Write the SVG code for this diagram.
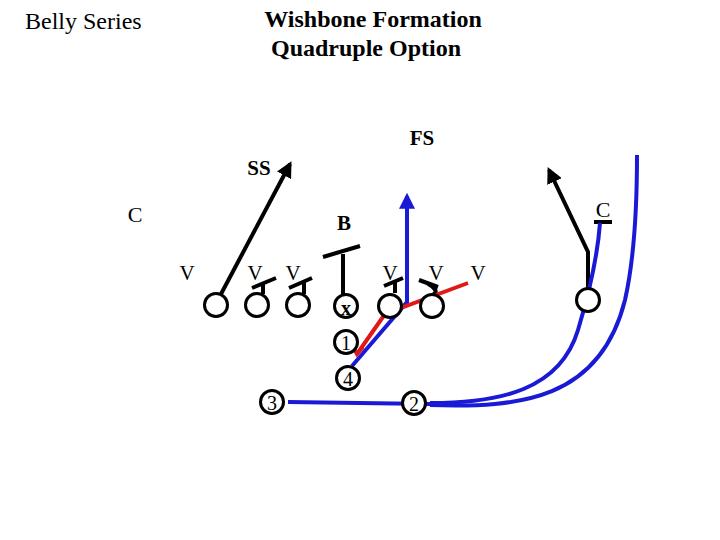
<svg xmlns="http://www.w3.org/2000/svg" width="720" height="540" viewBox="0 0 720 540">
<defs>
<style>
.t{font-family:"Liberation Serif","Times New Roman",serif;fill:#000}
.b{font-weight:bold}
.p{fill:#fff;stroke:#000;stroke-width:3}
.k{fill:none;stroke:#000;stroke-width:4;stroke-linecap:butt}
.bl{fill:none;stroke:#1a1ad6;stroke-width:4}
.rd{fill:none;stroke:#e01818;stroke-width:4}
</style>
<marker id="ak" viewBox="0 0 10 10" refX="8" refY="5" markerWidth="4" markerHeight="4" orient="auto" markerUnits="strokeWidth"><path d="M0,0L10,5L0,10z" fill="#000"/></marker>
<marker id="ab" viewBox="0 0 10 10" refX="8" refY="5" markerWidth="4" markerHeight="4" orient="auto" markerUnits="strokeWidth"><path d="M0,0L10,5L0,10z" fill="#1a1ad6"/></marker>
</defs>
<rect width="720" height="540" fill="#fff"/>
<g id="titles">
<text class="t" x="25" y="29" font-size="24">Belly Series</text>
<text class="t b" x="373" y="27" font-size="24" text-anchor="middle">Wishbone Formation</text>
<text class="t b" x="366" y="56" font-size="24" text-anchor="middle">Quadruple Option</text>
</g>
<g id="defense">
<text class="t b" x="422" y="145" font-size="21" text-anchor="middle">FS</text>
<text class="t b" x="259" y="175" font-size="21" text-anchor="middle">SS</text>
<text class="t" x="135" y="222" font-size="22" text-anchor="middle">C</text>
<text class="t b" x="344" y="230" font-size="21" text-anchor="middle">B</text>
<text class="t" x="603" y="217" font-size="22" text-anchor="middle">C</text>
<text class="t" x="187" y="280" font-size="21" text-anchor="middle">V</text>
<text class="t" x="255" y="280" font-size="21" text-anchor="middle">V</text>
<text class="t" x="293" y="280" font-size="21" text-anchor="middle">V</text>
<text class="t" x="390" y="280" font-size="21" text-anchor="middle">V</text>
<text class="t" x="436" y="280" font-size="21" text-anchor="middle">V</text>
<text class="t" x="478" y="280" font-size="21" text-anchor="middle">V</text>
</g>
<g id="connectors">
<path class="k" d="M221,294 L290,164" marker-end="url(#ak)"/>
<path class="k" d="M263,294 L263,283 M252,288 L276,278"/>
<path class="k" d="M304,294 L304,283 M289,288 L312,278"/>
<path class="k" d="M343,294 L343,254 M323,257 L360,246"/>
<path class="k" d="M395,293 L395,281 M384,286 L403,278"/>
<path class="k" d="M433,294 C440,292 432,286 427,283 M419,280 L438,287"/>
<path class="k" d="M588,289 L588,252 L549,170" marker-end="url(#ak)"/>
<path class="k" d="M594,222 L612,222"/>
<path class="bl" d="M288,402 L430,404"/>
<path class="bl" d="M430,403 C500,403 560,390 578,330 C590,290 598,250 600,223"/>
<path class="bl" d="M430,405 C520,408 600,400 625,300 C634,260 637,200 637,155"/>
<path class="bl" d="M352,366 L407,302 L407,196" marker-end="url(#ab)"/>
<path class="rd" d="M468,283 L385,314 L357,354 M352,345 L357,354 L363,347"/>
</g>
<g id="offense">
<circle class="p" cx="216" cy="305" r="11.5"/>
<circle class="p" cx="257" cy="305" r="11.5"/>
<circle class="p" cx="298" cy="305" r="11.5"/>
<circle class="p" cx="346" cy="306" r="11.5"/>
<circle class="p" cx="390" cy="306" r="11.5"/>
<circle class="p" cx="432" cy="306" r="11.5"/>
<circle class="p" cx="588" cy="300" r="11.5"/>
<circle class="p" cx="346" cy="342" r="11.5"/>
<circle class="p" cx="348" cy="378" r="11.5"/>
<circle class="p" cx="272" cy="402" r="11.5"/>
<circle class="p" cx="414" cy="403" r="11.5"/>
<text class="t b" x="346" y="315" font-size="20" text-anchor="middle">x</text>
<text class="t" x="346" y="350" font-size="20" text-anchor="middle">1</text>
<text class="t" x="348" y="386" font-size="20" text-anchor="middle">4</text>
<text class="t" x="272" y="410" font-size="20" text-anchor="middle">3</text>
<text class="t" x="414" y="411" font-size="20" text-anchor="middle">2</text>
</g>
</svg>
